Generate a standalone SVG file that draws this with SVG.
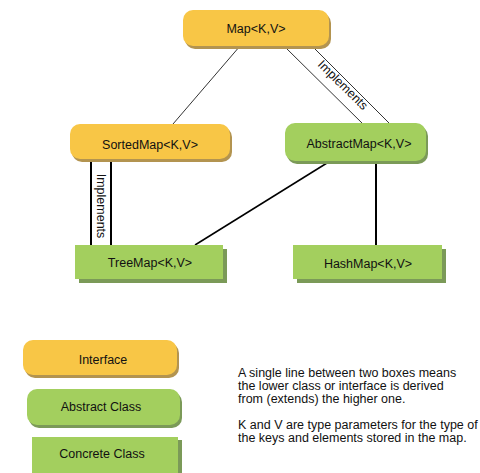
<svg xmlns="http://www.w3.org/2000/svg" width="480" height="473" viewBox="0 0 480 473">
<style>
text{font-family:"Liberation Sans",Arial,sans-serif;font-size:12.5px;fill:#111;}
.c{text-anchor:middle;}
.ifc{fill:#F8C646;}
.ish{fill:#B39450;}
.abs{fill:#A3CF5E;}
.ash{fill:#7B9A58;}
.thin{stroke:#333;stroke-width:1;fill:none;}
.thick{stroke:#000;stroke-width:2;fill:none;}
</style>
<rect width="480" height="473" fill="#fff"/>
<g id="connectors">
<line class="thin" x1="240" y1="46" x2="173" y2="124"/>
<line class="thin" x1="285" y1="47" x2="365" y2="126"/>
<line class="thin" x1="313" y1="47" x2="392" y2="126"/>
<text class="c" transform="translate(340,88) rotate(44.6)">Implements</text>
<line class="thick" x1="91" y1="159" x2="91" y2="245"/>
<line class="thick" x1="111" y1="159" x2="111" y2="245"/>
<text class="c" transform="translate(97,206) rotate(90)">Implements</text>
<line class="thin" style="stroke-width:1.5;stroke:#000" x1="327" y1="163" x2="195" y2="245"/>
<line class="thick" x1="376" y1="162" x2="376" y2="245"/>
</g>
<g id="map">
<rect class="ish" x="185" y="13" width="146" height="36" rx="10"/>
<rect class="ifc" x="183" y="10" width="146" height="36" rx="10"/>
<text class="c" x="256" y="33">Map&lt;K,V&gt;</text>
</g>
<g id="sortedmap">
<rect class="ish" x="72" y="127" width="160" height="35" rx="10"/>
<rect class="ifc" x="70" y="124" width="160" height="35" rx="10"/>
<text class="c" x="150" y="149">SortedMap&lt;K,V&gt;</text>
</g>
<g id="abstractmap">
<rect class="ash" x="287" y="126" width="141" height="38" rx="10"/>
<rect class="abs" x="285" y="123" width="141" height="38" rx="10"/>
<text class="c" x="359" y="148">AbstractMap&lt;K,V&gt;</text>
</g>
<g id="treemap">
<rect class="ash" x="79" y="249" width="148" height="34"/>
<rect class="abs" x="75" y="245" width="148" height="34"/>
<text class="c" x="150" y="267">TreeMap&lt;K,V&gt;</text>
</g>
<g id="hashmap">
<rect class="ash" x="297" y="249" width="149" height="34"/>
<rect class="abs" x="293" y="245" width="149" height="34"/>
<text class="c" x="368" y="268">HashMap&lt;K,V&gt;</text>
</g>
<g id="legend-interface">
<rect class="ish" x="25" y="343" width="154" height="35" rx="10"/>
<rect class="ifc" x="23" y="340" width="154" height="35" rx="10"/>
<text class="c" x="103" y="364">Interface</text>
</g>
<g id="legend-abstract">
<rect class="ash" x="29" y="392" width="153" height="36" rx="10"/>
<rect class="abs" x="27" y="389" width="153" height="36" rx="10"/>
<text class="c" x="101" y="411">Abstract Class</text>
</g>
<g id="legend-concrete">
<rect class="ash" x="35" y="440" width="147" height="40"/>
<rect class="abs" x="32" y="437" width="146" height="40"/>
<text class="c" x="102" y="458">Concrete Class</text>
</g>
<g id="notes">
<text x="238" y="377">A single line between two boxes means</text>
<text x="238" y="390">the lower class or interface is derived</text>
<text x="238" y="403">from (extends) the higher one.</text>
<text x="238" y="429">K and V are type parameters for the type of</text>
<text x="238" y="442">the keys and elements stored in the map.</text>
</g>
</svg>
